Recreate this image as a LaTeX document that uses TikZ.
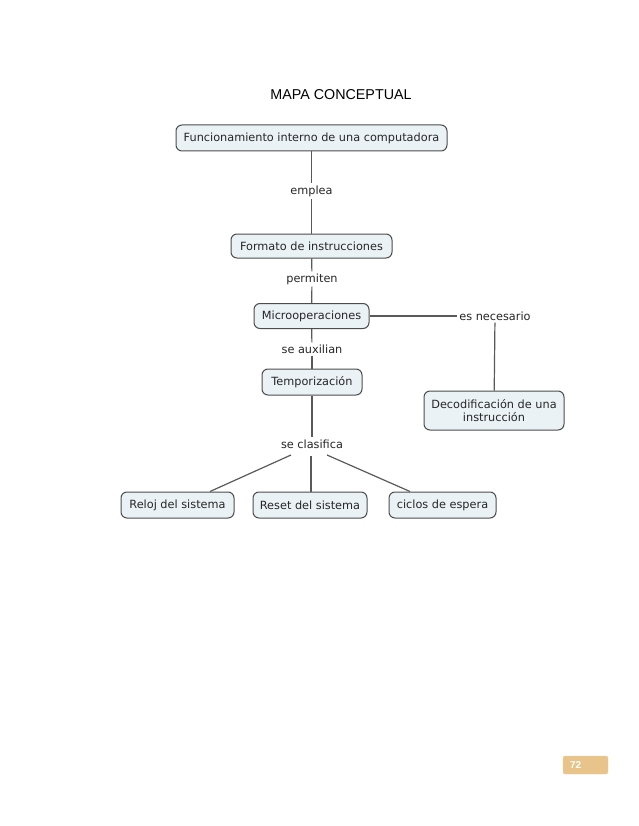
\documentclass[tikz,border=0pt]{standalone}
\usepackage{fontspec}
\setmainfont{Liberation Sans}
\newfontfamily\cmapfont{DejaVu Sans}
\begin{document}
\begin{tikzpicture}[x=1pt,y=-1pt,
  concept/.style={draw=black!70,line width=1pt,fill=boxfill,rounded corners=6pt,
    font=\cmapfont\fontsize{11.3}{13.5}\selectfont,inner sep=0pt,align=center,text=black!85},
  linkl/.style={font=\cmapfont\fontsize{11.3}{13.5}\selectfont,inner sep=2pt,fill=white,text=black!85},
  conn/.style={draw=black!65,line width=1.2pt}]
\definecolor{boxfill}{HTML}{EBF2F5}
\definecolor{tan}{HTML}{E9C48A}
\useasboundingbox (0,0) rectangle (638,826);
\node[font=\fontsize{14.3}{17}\selectfont] (title) at (341,95) {MAPA CONCEPTUAL};
\node[concept,minimum width=271pt,minimum height=26pt] (f) at (311.5,138) {Funcionamiento interno de una computadora};
\node[concept,minimum width=161pt,minimum height=24pt] (fi) at (311.5,246) {Formato de instrucciones};
\node[concept,minimum width=115pt,minimum height=25pt] (mo) at (311.5,316) {Microoperaciones};
\node[concept,minimum width=100pt,minimum height=26pt] (te) at (312,382) {Temporización};
\node[concept,minimum width=140pt,minimum height=39pt] (de) at (494,410.5) {Decodificación de una\\instrucción};
\node[concept,minimum width=113pt,minimum height=26pt] (re) at (177.5,505) {Reloj del sistema};
\node[concept,minimum width=114pt,minimum height=26pt] (rs) at (310,505) {Reset del sistema};
\node[concept,minimum width=107pt,minimum height=26pt] (ci) at (442.5,505) {ciclos de espera};
\node[linkl] (l1) at (311.5,191) {emplea};
\node[linkl] (l2) at (312,279) {permiten};
\node[linkl] (l3) at (312,349) {se auxilian};
\node[linkl] (l4) at (495,316) {es necesario};
\node[linkl] (l5) at (312,444) {se clasifica};
\draw[conn] (f) -- (l1);
\draw[conn] (l1) -- (fi);
\draw[conn] (fi) -- (l2);
\draw[conn] (l2) -- (mo);
\draw[conn] (mo) -- (l3);
\draw[conn] (l3) -- (te);
\draw[conn] (te) -- (l5);
\draw[conn] (mo.east) -- (l4.west);
\draw[conn] (l4) -- (de);
\coordinate (s1) at (291,455);
\coordinate (s2) at (311,456);
\coordinate (s3) at (327,455);
\coordinate (e1) at (210,491.5);
\coordinate (e2) at (311,491.5);
\coordinate (e3) at (410,491.5);
\draw[conn] (s1) -- (e1);
\draw[conn] (s2) -- (e2);
\draw[conn] (s3) -- (e3);
\node[draw=tan!80!white,fill=tan,rounded corners=2pt,minimum width=45pt,minimum height=18pt,inner sep=0pt] (pg) at (585.5,765) {};
\node[font=\bfseries\fontsize{10}{11}\selectfont,text=white,anchor=west,inner sep=0pt] (pgn) at ([xshift=7pt]pg.west) {72};
\end{tikzpicture}
\end{document}
